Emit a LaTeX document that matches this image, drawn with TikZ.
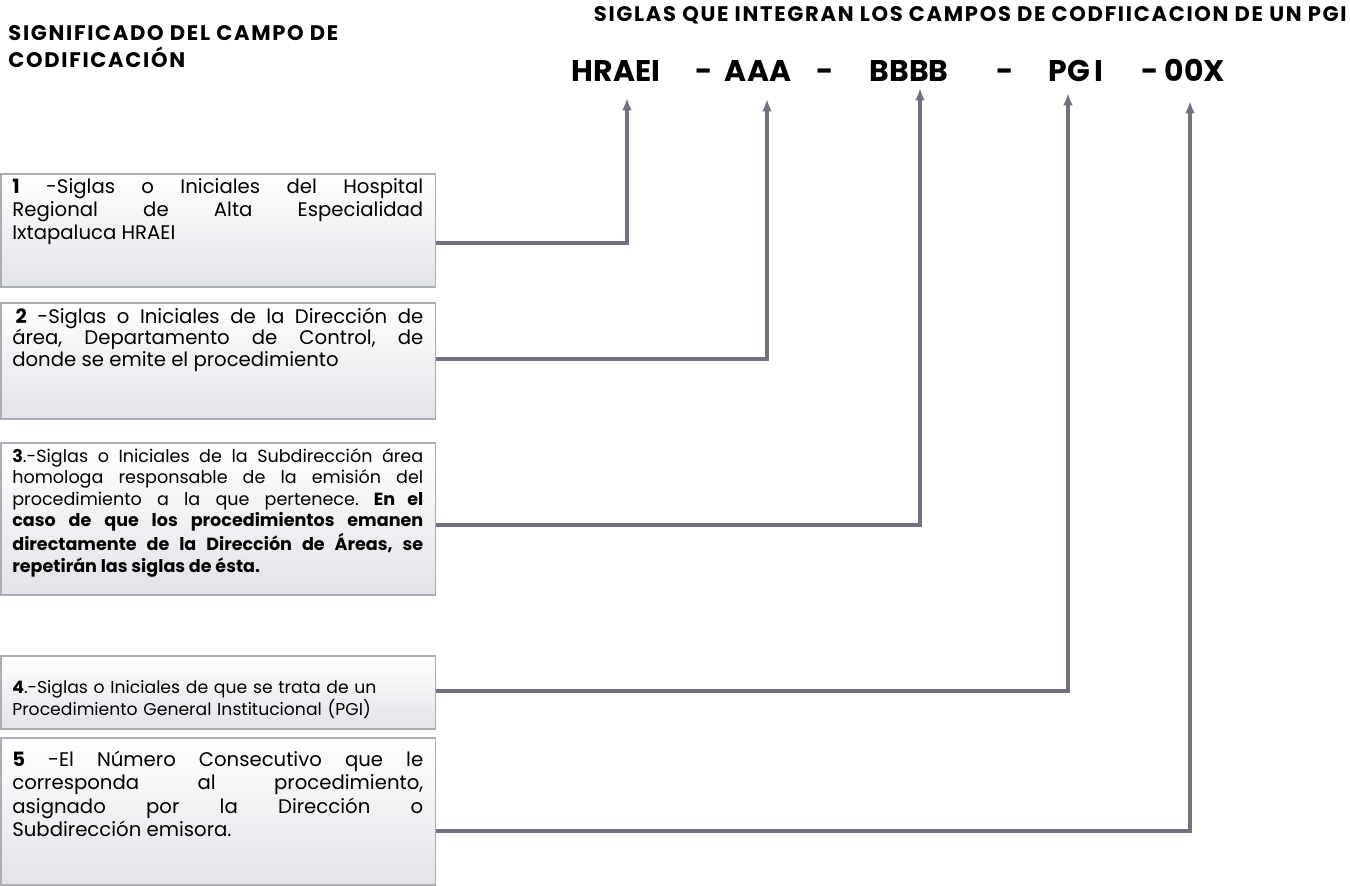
\documentclass[tikz,border=0pt]{standalone}
\usepackage{fontspec}
\setmainfont{Poppins}
\usetikzlibrary{arrows.meta,positioning}
\frenchspacing

\definecolor{lineagris}{RGB}{112,114,130}
\definecolor{bordegris}{RGB}{172,174,182}
\definecolor{fondogris}{RGB}{226,227,232}

\tikzset{
  caja/.style={draw=bordegris, line width=0.9pt, top color=white, bottom color=fondogris,
    minimum width=8.7cm, inner sep=0pt, anchor=north west},
  texto/.style={inner sep=0pt, text width=8.22cm, align=justify, anchor=base west},
  sigla/.style={font=\bfseries\fontsize{17}{20}\selectfont, inner sep=0pt, anchor=base},
  titulo/.style={font=\bfseries\fontsize{12}{15.3}\selectfont\addfontfeature{LetterSpace=8}, inner sep=0pt},
  enlace/.style={draw=lineagris, line width=2.2pt, -{Latex[length=7pt,width=5.5pt]}},
}

\begin{document}
\begin{tikzpicture}[x=0.02cm,y=-0.02cm]
    \useasboundingbox (0,0) rectangle (1350,886);

    % titulos
    \node[titulo, anchor=north west, align=left] (tizq) at (8,25)
        {SIGNIFICADO DEL CAMPO DE\\CODIFICACIÓN};
    \node[titulo, anchor=east] (tder) at (1347,15.5)
        {SIGLAS QUE INTEGRAN LOS CAMPOS DE CODFIICACION DE UN PGI};

    % siglas del codigo
    \node[sigla] (hraei) at (616,81) {HRAEI};
    \node[sigla] (g1) at (704,81) {-};
    \node[sigla] (aaa) at (758,81) {AAA};
    \node[sigla] (g2) at (825,81) {-};
    \node[sigla] (bbbb) at (909,81) {BBBB};
    \node[sigla] (g3) at (1005,81) {-};
    \node[sigla] (pgi) at (1076,81) {PG\,I};
    \node[sigla] (g4) at (1150,81) {-};
    \node[sigla] (oox) at (1195,81) {00X};

    % puntas de las flechas
    \coordinate (t1) at (627,98);
    \coordinate (t2) at (767,99);
    \coordinate (t3) at (920,88);
    \coordinate (t4) at (1068,93);
    \coordinate (t5) at (1190,101);

    % cuadros
    \node[caja, minimum height=2.26cm] (b1) at (0,173) {};
    \node[caja, minimum height=2.32cm] (b2) at (0,302) {};
    \node[caja, minimum height=3.04cm] (b3) at (0,442) {};
    \node[caja, minimum height=1.46cm] (b4) at (0,655) {};
    \node[caja, minimum height=2.94cm] (b5) at (0,737) {};

    % significado de cada campo
    \node[texto, font=\fontsize{11.2}{13.3}\selectfont] (d1) at (12,193)
        {\textbf{1} -Siglas o Iniciales del Hospital\linebreak
         Regional de Alta Especialidad\linebreak
         Ixtapaluca HRAEI};
    \node[texto, font=\fontsize{11.2}{12.5}\selectfont] (d2) at (12,323)
        {\,\textbf{2} -Siglas o Iniciales de la Dirección de\linebreak
         área, Departamento de Control, de\linebreak
         donde se emite el procedimiento};
    \node[texto, font=\fontsize{10}{12.3}\selectfont] (d3) at (12,462)
        {\textbf{3}.-Siglas o Iniciales de la Subdirección área\linebreak
         homologa responsable de la emisión del\linebreak
         procedimiento a la que pertenece. \textbf{En el\linebreak
         caso de que los procedimientos emanen\linebreak
         directamente de la Dirección de Áreas, se\linebreak
         repetirán las siglas de ésta.}};
    \node[texto, align=left, font=\fontsize{9.8}{10.8}\selectfont] (d4) at (12,693)
        {\textbf{4}.-Siglas o Iniciales de que se trata de un\\
         Procedimiento General Institucional (PGI)};
    \node[texto, font=\fontsize{11.2}{13.4}\selectfont] (d5) at (12,766)
        {\textbf{5} -El Número Consecutivo que le\linebreak
         corresponda al procedimiento,\linebreak
         asignado por la Dirección o\linebreak
         Subdirección emisora.};

    % lineas de cada cuadro a su sigla
    \draw[enlace] (b1.east |- 0,243) -| (t1);
    \draw[enlace] (b2.east |- 0,359) -| (t2);
    \draw[enlace] (b3.east |- 0,525) -| (t3);
    \draw[enlace] (b4.east |- 0,691) -| (t4);
    \draw[enlace] (b5.east |- 0,831) -| (t5);
\end{tikzpicture}
\end{document}
